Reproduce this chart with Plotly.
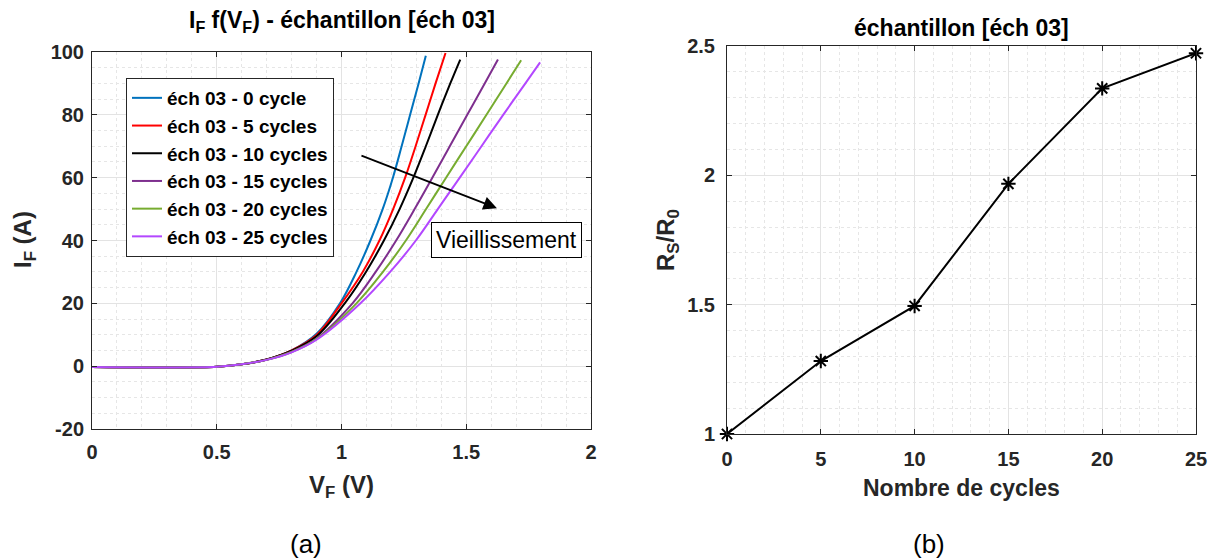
import plotly.graph_objects as go
from plotly.subplots import make_subplots

# courbes I_F = f(V_F) (a)
labels = ["éch 03 - 0 cycle", "éch 03 - 5 cycles", "éch 03 - 10 cycles",
          "éch 03 - 15 cycles", "éch 03 - 20 cycles", "éch 03 - 25 cycles"]
colors = ["#0072BD", "#FF0000", "#000000", "#7E2F8E", "#77AC30", "#B347FF"]

v_0 = [0, 0.25, 0.5, 0.6, 0.7, 0.8, 0.9, 0.994, 1.06, 1.116, 1.165, 1.206, 1.241, 1.275, 1.309, 1.338]
i_0 = [-0.3, -0.4, -0.2, 0.6, 2.1, 5.0, 10.3, 20, 30, 40, 50, 60, 70, 80, 90, 98.8]
v_5 = [0, 0.25, 0.5, 0.6, 0.7, 0.8, 0.9, 1.0, 1.085, 1.152, 1.207, 1.255, 1.297, 1.337, 1.377, 1.417]
i_5 = [-0.3, -0.4, -0.2, 0.6, 2.1, 5.0, 9.9, 20, 30, 40, 50, 60, 70, 80, 90, 99.7]
v_10 = [0, 0.25, 0.5, 0.6, 0.7, 0.8, 0.9, 1.013, 1.098, 1.170, 1.233, 1.288, 1.338, 1.386, 1.436, 1.476]
i_10 = [-0.3, -0.4, -0.2, 0.6, 2.1, 4.9, 9.5, 20, 30, 40, 50, 60, 70, 80, 90, 97.6]
v_15 = [0, 0.25, 0.5, 0.6, 0.7, 0.8, 0.9, 1.044, 1.137, 1.219, 1.293, 1.364, 1.434, 1.504, 1.574, 1.627]
i_15 = [-0.3, -0.4, -0.2, 0.6, 2.0, 4.6, 8.8, 20, 30, 40, 50, 60, 70, 80, 90, 97.6]
v_20 = [0, 0.25, 0.5, 0.6, 0.7, 0.8, 0.9, 1.06, 1.166, 1.258, 1.339, 1.419, 1.5, 1.581, 1.661, 1.72]
i_20 = [-0.3, -0.4, -0.2, 0.6, 2.0, 4.5, 8.6, 20, 30, 40, 50, 60, 70, 80, 90, 97.4]
v_25 = [0, 0.25, 0.5, 0.6, 0.7, 0.8, 0.9, 1.076, 1.195, 1.298, 1.386, 1.474, 1.561, 1.648, 1.737, 1.796]
i_25 = [-0.3, -0.4, -0.2, 0.6, 2.0, 4.4, 8.4, 20, 30, 40, 50, 60, 70, 80, 90, 96.7]

# rapport R_S/R_0 en fonction du nombre de cycles, figure (b)
cycles = [0, 5, 10, 15, 20, 25]
rs_r0 = [1.0, 1.282, 1.495, 1.967, 2.336, 2.472]

# graduations
if_ticks = [-20, 0, 20, 40, 60, 80, 100]
if_ticktext = ["-20", "0", "20", "40", "60", "80", "100"]

curves = [(v_0, i_0), (v_5, i_5), (v_10, i_10), (v_15, i_15), (v_20, i_20), (v_25, i_25)]

FONT = "Liberation Sans, Arial, sans-serif"
DARK = "#262626"

fig = make_subplots(rows=1, cols=2)

for k, (v, i) in enumerate(curves):
    fig.add_trace(go.Scatter(x=v, y=i, mode="lines", name=labels[k], legendgroup=f"g{k}",
                             line=dict(color=colors[k], width=2, shape="spline", smoothing=1.0)),
                  row=1, col=1)

fig.add_trace(go.Scatter(x=cycles, y=rs_r0, mode="lines+markers", showlegend=False, cliponaxis=False,
                         line=dict(color="black", width=2),
                         marker=dict(symbol="asterisk-open", size=12, color="black",
                                     line=dict(color="black", width=2))),
              row=1, col=2)

axis_common = dict(showline=True, linecolor=DARK, linewidth=1, mirror="ticks", ticks="inside",
                   ticklen=5, tickcolor=DARK, showgrid=True, gridcolor="#e3e3e3", gridwidth=1,
                   zeroline=False, automargin=False,
                   tickfont=dict(family=FONT, size=20, color=DARK, weight="bold"))

fig.update_xaxes(axis_common)
fig.update_yaxes(axis_common)

fig.update_xaxes(domain=[92 / 1212, 591 / 1212], range=[0, 2], dtick=0.5, ticklabelstandoff=5,
                 minor=dict(dtick=0.1, showgrid=True, gridcolor="#e6e6e6", griddash="dot"),
                 row=1, col=1)
fig.update_yaxes(domain=[1 - 429 / 560, 1 - 52 / 560], range=[-20, 100], tickvals=if_ticks,
                 ticktext=if_ticktext, ticklabelstandoff=3,
                 minor=dict(dtick=5, showgrid=True, gridcolor="#e6e6e6", griddash="dot"),
                 row=1, col=1)
fig.update_xaxes(domain=[727 / 1212, 1196 / 1212], range=[0, 25], dtick=5, ticklabelstandoff=7,
                 minor=dict(dtick=1, showgrid=True, gridcolor="#e6e6e6", griddash="dot"),
                 row=1, col=2)
fig.update_yaxes(domain=[1 - 434 / 560, 1 - 46 / 560], range=[1, 2.5], dtick=0.5, ticklabelstandoff=7,
                 minor=dict(dtick=0.1, showgrid=True, gridcolor="#e6e6e6", griddash="dot"),
                 row=1, col=2)

bold = dict(family=FONT, color="black", weight="bold")

annotations = [
    dict(text="I<sub>F</sub> f(V<sub>F</sub>) - échantillon [éch 03]", x=341.5 / 1212, y=1 - 22 / 560,
         font=dict(bold, size=23)),
    dict(text="échantillon [éch 03]", x=961.5 / 1212, y=1 - 28 / 560, font=dict(bold, size=23)),
    dict(text="V<sub>F</sub> (V)", x=341.5 / 1212, y=1 - 486 / 560, font=dict(bold, size=24, color=DARK)),
    dict(text="Nombre de cycles", x=961.5 / 1212, y=1 - 488 / 560, font=dict(bold, size=23, color=DARK)),
    dict(text="I<sub>F</sub> (A)", x=24 / 1212, y=1 - 240 / 560, textangle=-90,
         font=dict(bold, size=24, color=DARK)),
    dict(text="R<sub>S</sub>/R<sub>0</sub>", x=667 / 1212, y=1 - 240 / 560, textangle=-90,
         font=dict(bold, size=24, color=DARK)),
    dict(text="(a)", x=306 / 1212, y=1 - 544 / 560, font=dict(family=FONT, size=26, color="black")),
    dict(text="(b)", x=929 / 1212, y=1 - 544 / 560, font=dict(family=FONT, size=26, color="black")),
]
for a in annotations:
    fig.add_annotation(xref="paper", yref="paper", showarrow=False, xanchor="center", yanchor="middle", **a)

# flèche et boîte "Vieillissement"
fig.add_annotation(xref="x", yref="y", axref="x", ayref="y", x=1.623, y=50.3, ax=1.074, ay=67.2,
                   showarrow=True, arrowhead=2, arrowsize=1.5, arrowwidth=1.8, arrowcolor="black", text="")
fig.add_annotation(xref="x", yref="y", x=1.663, y=40.2, text="Vieillissement", showarrow=False,
                   font=dict(family=FONT, size=23, color="black"), bgcolor="white",
                   bordercolor="black", borderwidth=1, borderpad=4)

fig.update_layout(
    width=1212, height=560, margin=dict(l=0, r=0, t=0, b=0, pad=0),
    paper_bgcolor="white", plot_bgcolor="white",
    legend=dict(x=126 / 1212, y=1 - 78 / 560, xanchor="left", yanchor="top", bgcolor="white",
                bordercolor=DARK, borderwidth=1, tracegroupgap=0,
                font=dict(family=FONT, size=19, color="black", weight="bold")),
)

fig.write_html("out.html", config={"displayModeBar": False},
               post_script="document.body.style.margin = '0px';")
